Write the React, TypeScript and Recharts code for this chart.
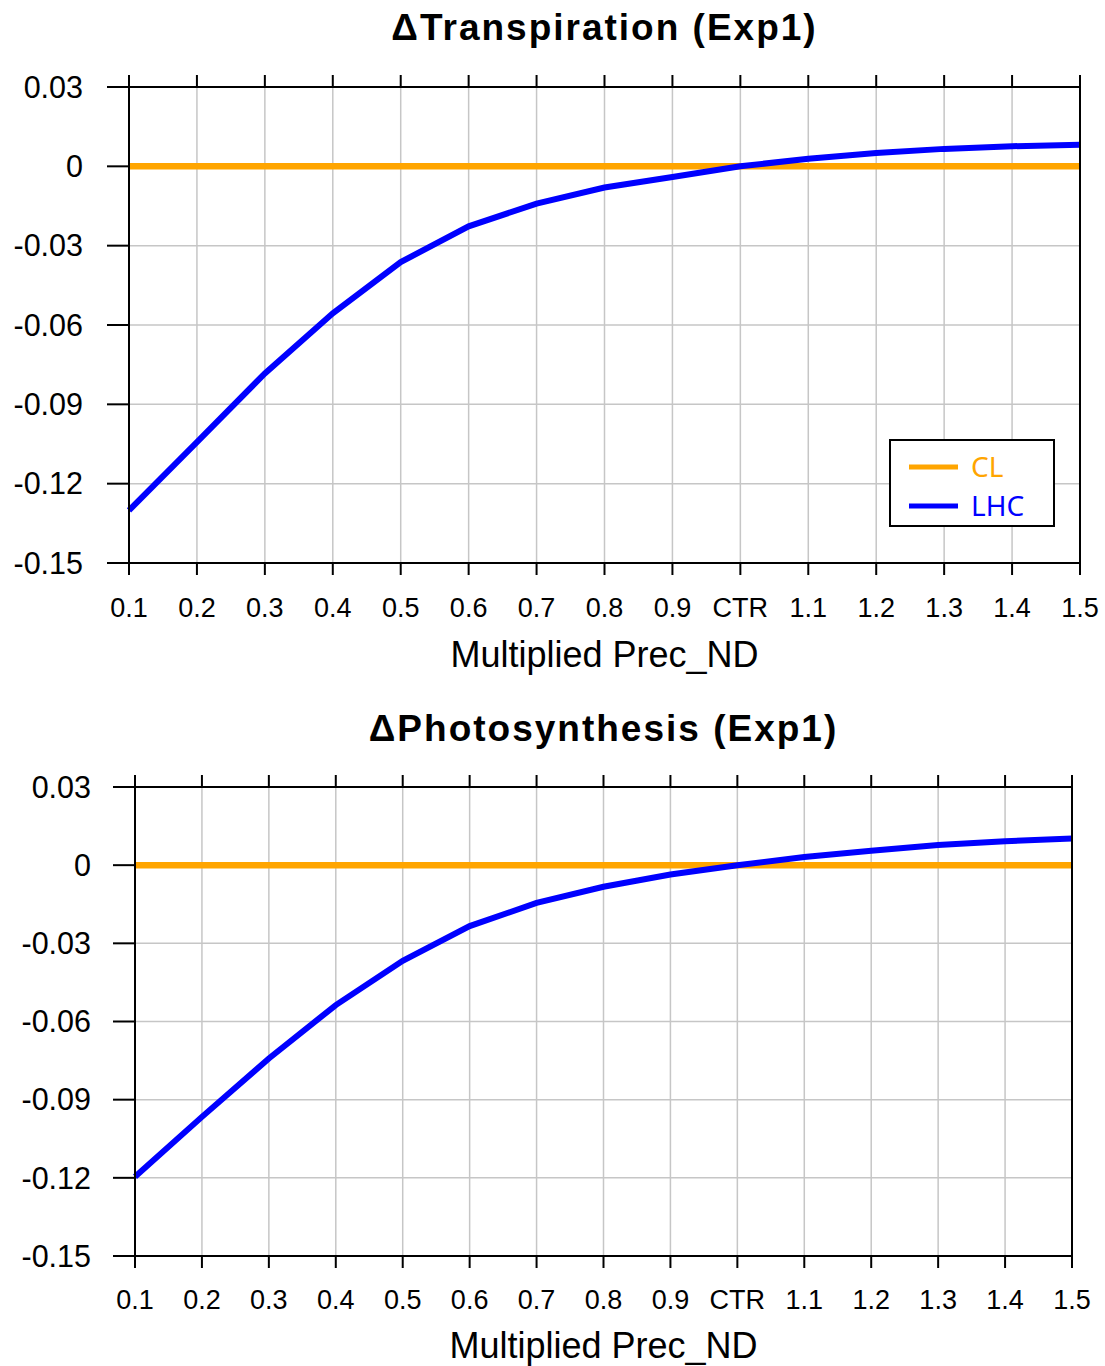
import React from 'react';
import { LineChart, Line, XAxis, YAxis, CartesianGrid, Legend } from 'recharts';

const categories = ['0.1', '0.2', '0.3', '0.4', '0.5', '0.6', '0.7', '0.8', '0.9', 'CTR', '1.1', '1.2', '1.3', '1.4', '1.5'];
const yTicks = [0.03, 0, -0.03, -0.06, -0.09, -0.12, -0.15];

const transpCL = [0, 0, 0, 0, 0, 0, 0, 0, 0, 0, 0, 0, 0, 0, 0];
const transpLHC = [-0.1301, -0.1043, -0.0783, -0.0556, -0.0362, -0.0227, -0.0141, -0.008, -0.004, 0, 0.0029, 0.005, 0.0066, 0.0076, 0.0082];

const photoCL = [0, 0, 0, 0, 0, 0, 0, 0, 0, 0, 0, 0, 0, 0, 0];
const photoLHC = [-0.1196, -0.0966, -0.0742, -0.0537, -0.0367, -0.0234, -0.0145, -0.0083, -0.0036, 0, 0.0031, 0.0055, 0.0077, 0.0092, 0.0102];

const FONT = '"Liberation Sans", Arial, Helvetica, sans-serif';
const noTick = () => <g />;

const LegendBox = (props: any) => {
  const payload = props.payload || [];
  return (
    <div
      style={{
        width: 162,
        height: 84,
        border: '2px solid #000',
        background: '#fff',
        position: 'relative',
        fontFamily: '"Noto Sans", sans-serif',
        fontSize: 28,
      }}
    >
      {payload.map((p: any, i: number) => (
        <div key={i} style={{ position: 'absolute', left: 0, top: 7 + i * 39, height: 36, display: 'flex', alignItems: 'center' }}>
          <svg width={80} height={36}>
            <line x1={18} x2={67} y1={19} y2={19} stroke={p.color} strokeWidth={5} />
          </svg>
          <span style={{ color: p.color, lineHeight: '36px' }}>{p.value}</span>
        </div>
      ))}
    </div>
  );
};

type Props = {
  title: string;
  cl: number[];
  lhc: number[];
  width: number;
  height: number;
  plotTop: number;
  plotBottom: number;
  plotLeft: number;
  plotRight: number;
  yTickMargin: number;
  xTickMargin: number;
  xLabelOffset: number;
  titleY: number;
  showLegend: boolean;
};

const Panel = (p: Props) => {
  const data = categories.map((c, i) => ({ cat: c, CL: p.cl[i], LHC: p.lhc[i] }));
  return (
    <div style={{ position: 'relative', width: p.width, height: p.height }}>
      <div
        style={{
          position: 'absolute',
          left: p.plotLeft,
          width: p.plotRight - p.plotLeft,
          top: p.titleY - 24,
          height: 48,
          lineHeight: '48px',
          textAlign: 'center',
          fontFamily: FONT,
          fontWeight: 'bold',
          fontSize: 37,
          letterSpacing: 2,
          color: '#000',
          zIndex: 2,
        }}
      >
        {p.title}
      </div>
      <LineChart
        width={p.width}
        height={p.height}
        data={data}
        margin={{ top: p.plotTop - 1, right: 0, bottom: 0, left: 0 }}
      >
        <CartesianGrid xAxisId="bottom" yAxisId="left" stroke="#c6c6c6" strokeWidth={1.5} />
        <XAxis
          xAxisId="bottom"
          dataKey="cat"
          orientation="bottom"
          height={p.height - p.plotBottom}
          interval={0}
          tickSize={12}
          tickMargin={p.xTickMargin}
          axisLine={{ stroke: '#000', strokeWidth: 2 }}
          tickLine={{ stroke: '#000', strokeWidth: 2 }}
          tick={{ fill: '#000', fontSize: 27, fontFamily: FONT }}
          label={{
            value: 'Multiplied Prec_ND',
            position: 'insideBottom',
            offset: p.xLabelOffset,
            fill: '#000',
            fontSize: 36,
            fontFamily: FONT,
          }}
        />
        <XAxis
          xAxisId="top"
          dataKey="cat"
          orientation="top"
          height={1}
          interval={0}
          tickSize={12}
          axisLine={{ stroke: '#000', strokeWidth: 2 }}
          tickLine={{ stroke: '#000', strokeWidth: 2 }}
          tick={noTick}
        />
        <YAxis
          yAxisId="left"
          orientation="left"
          type="number"
          width={p.plotLeft}
          domain={[-0.15, 0.03]}
          ticks={yTicks}
          interval={0}
          tickSize={22}
          tickMargin={p.yTickMargin}
          tickFormatter={(v: number) => String(v)}
          axisLine={{ stroke: '#000', strokeWidth: 2 }}
          tickLine={{ stroke: '#000', strokeWidth: 2 }}
          tick={{ fill: '#000', fontSize: 30.5, fontFamily: FONT }}
        />
        <YAxis
          yAxisId="right"
          orientation="right"
          type="number"
          width={p.width - p.plotRight}
          domain={[-0.15, 0.03]}
          ticks={yTicks}
          interval={0}
          tickSize={20}
          axisLine={{ stroke: '#000', strokeWidth: 2 }}
          tickLine={{ stroke: '#000', strokeWidth: 2 }}
          tick={noTick}
        />
        <Line
          xAxisId="bottom"
          yAxisId="left"
          dataKey="CL"
          name="CL"
          stroke="#FFA500"
          strokeWidth={6.5}
          dot={false}
          activeDot={false}
          isAnimationActive={false}
        />
        <Line
          xAxisId="bottom"
          yAxisId="left"
          dataKey="LHC"
          name="LHC"
          stroke="#0000FF"
          strokeWidth={6}
          dot={false}
          activeDot={false}
          isAnimationActive={false}
        />
        {p.showLegend && (
          <Legend
            layout="vertical"
            align="center"
            verticalAlign="middle"
            content={LegendBox}
            wrapperStyle={{ left: 889, top: 439, width: 166, height: 88 }}
          />
        )}
      </LineChart>
    </div>
  );
};

export default function App() {
  return (
    <div style={{ position: 'relative', width: 1105, height: 1366, background: '#fff' }}>
      <style>{`body{margin:0;background:#fff;}`}</style>
      <div style={{ position: 'absolute', left: 0, top: 0 }}>
        <Panel
          title="ΔTranspiration (Exp1)"
          cl={transpCL}
          lhc={transpLHC}
          width={1105}
          height={683}
          plotTop={87}
          plotBottom={563}
          plotLeft={129}
          plotRight={1080}
          yTickMargin={24}
          xTickMargin={23}
          xLabelOffset={16}
          titleY={28}
          showLegend={true}
        />
      </div>
      <div style={{ position: 'absolute', left: 0, top: 700 }}>
        <Panel
          title="ΔPhotosynthesis (Exp1)"
          cl={photoCL}
          lhc={photoLHC}
          width={1105}
          height={666}
          plotTop={87}
          plotBottom={556}
          plotLeft={135}
          plotRight={1072}
          yTickMargin={22}
          xTickMargin={22}
          xLabelOffset={8}
          titleY={29}
          showLegend={false}
        />
      </div>
    </div>
  );
}
